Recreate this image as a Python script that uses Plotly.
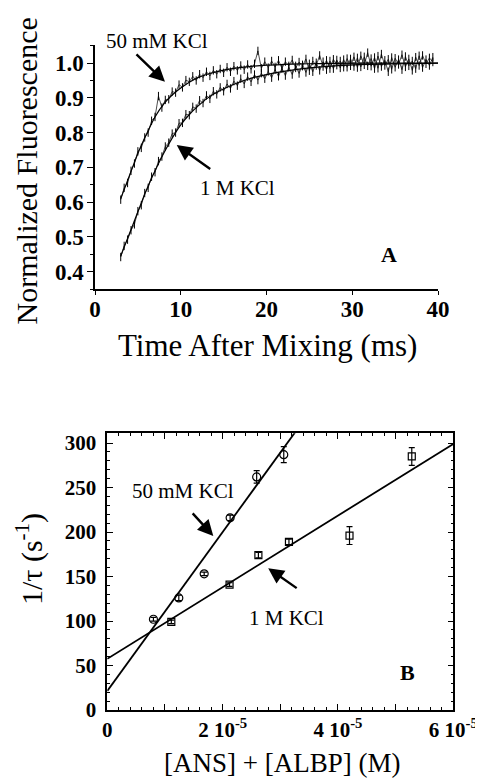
import plotly.graph_objects as go

# ---------------- Panel A data ----------------
t_start = 3.0
t_step = 0.4
fluor_50mM = [0.607, 0.641, 0.655, 0.690, 0.711, 0.746, 0.756, 0.786, 0.800, 0.834,
              0.845, 0.905, 0.872, 0.894, 0.896, 0.918, 0.915, 0.938, 0.930, 0.951,
              0.946, 0.962, 0.950, 0.968, 0.958, 0.975, 0.963, 0.979, 0.968, 0.983,
              0.972, 0.988, 0.975, 0.991, 0.979, 0.993, 0.981, 0.996, 0.982, 0.998,
              1.035, 0.985, 1.004, 0.987, 1.006, 0.989, 1.008, 0.985, 1.004, 0.992,
              1.009, 0.986, 1.003, 0.991, 1.012, 0.978, 1.006, 0.993, 1.022, 0.990,
              1.008, 0.984, 1.011, 0.994, 1.006, 0.988, 1.013, 0.992, 1.018, 0.987,
              1.021, 0.995, 1.030, 0.991, 1.016, 0.985, 1.026, 0.993, 1.011, 0.982,
              1.014, 0.996, 1.024, 0.989, 1.012, 0.979, 1.017, 0.993, 1.022, 0.998,
              1.015, 1.003]
fluor_1M = [0.442, 0.474, 0.492, 0.519, 0.536, 0.574, 0.591, 0.626, 0.641, 0.673,
            0.686, 0.718, 0.731, 0.760, 0.771, 0.797, 0.800, 0.827, 0.828, 0.853,
            0.850, 0.874, 0.869, 0.893, 0.885, 0.907, 0.897, 0.919, 0.910, 0.930,
            0.919, 0.940, 0.927, 0.948, 0.935, 0.955, 0.940, 0.961, 0.946, 0.967,
            0.951, 0.971, 0.955, 0.976, 0.958, 0.981, 0.962, 0.985, 0.964, 0.988,
            0.967, 0.992, 0.970, 0.995, 0.973, 0.998, 0.975, 1.001, 0.979, 1.004,
            0.981, 1.006, 0.984, 1.009, 0.986, 1.010, 0.988, 1.012, 0.990, 1.015,
            0.989, 1.018, 0.992, 1.013, 0.984, 1.020, 0.990, 1.008, 0.975, 1.016,
            0.988, 1.010, 0.981, 1.019, 0.992, 1.006, 0.984, 1.021, 0.987, 1.010,
            0.993, 1.017]
time_ms = [round(t_start + t_step * i, 2) for i in range(len(fluor_50mM))]

fit_time = [3, 4, 5, 6, 7, 8, 9, 10, 11, 12, 13, 14, 16, 18, 20, 22, 25, 28, 32, 36, 40]
fit_50mM = [0.61, 0.675, 0.74, 0.795, 0.845, 0.882, 0.908, 0.928, 0.945, 0.958, 0.967,
            0.974, 0.984, 0.990, 0.994, 0.996, 0.998, 0.999, 1.0, 1.0, 1.0]
fit_1M = [0.445, 0.508, 0.572, 0.635, 0.69, 0.74, 0.784, 0.822, 0.852, 0.876, 0.897,
          0.913, 0.937, 0.955, 0.967, 0.976, 0.986, 0.992, 0.996, 0.998, 1.0]

# ---------------- Panel B data ----------------
conc_50mM = [0.80e-5, 1.24e-5, 1.68e-5, 2.13e-5, 2.59e-5, 3.06e-5]
rate_50mM = [102, 126, 153, 216, 262, 287]
err_50mM = [2, 3, 2, 3, 7, 9]
conc_1M = [1.11e-5, 2.12e-5, 2.62e-5, 3.15e-5, 4.20e-5, 5.28e-5]
rate_1M = [99, 141, 174, 189, 196, 285]
err_1M = [2, 2, 3, 3, 10, 10]
line_50mM_x = [0.0, 3.3e-5]
line_50mM_y = [21.5, 316.0]
line_1M_x = [0.0, 6.0e-5]
line_1M_y = [57.5, 299.0]

x2_tickvals = [0, 1e-5, 2e-5, 3e-5, 4e-5, 5e-5, 6e-5]
x2_ticktext = ["0", " ", "2 10<sup>-5</sup>", " ", "4 10<sup>-5</sup>", " ", "6 10<sup>-5</sup>"]

SERIF = "Liberation Serif"
BLACK = "black"
W, H = 483, 782
OFF = 8  # page body margin of the html page


def px_x(p):
    return (p - OFF) / W


def px_y(p):
    return 1 - (p - OFF) / H


fig = go.Figure()

# Panel A
for series in (fluor_50mM, fluor_1M):
    fig.add_trace(go.Scatter(x=time_ms, y=series, mode="lines+markers",
                             line=dict(color=BLACK, width=0.7),
                             marker=dict(symbol="line-ns-open", size=6, line=dict(color=BLACK, width=1)),
                             xaxis="x", yaxis="y"))
for fit in (fit_50mM, fit_1M):
    fig.add_trace(go.Scatter(x=fit_time, y=fit, mode="lines",
                             line=dict(color=BLACK, width=1.2, shape="spline"),
                             xaxis="x", yaxis="y"))

# Panel B
fig.add_trace(go.Scatter(x=line_50mM_x, y=line_50mM_y, mode="lines", line=dict(color=BLACK, width=1.8),
                         xaxis="x2", yaxis="y2"))
fig.add_trace(go.Scatter(x=line_1M_x, y=line_1M_y, mode="lines", line=dict(color=BLACK, width=1.8),
                         xaxis="x2", yaxis="y2"))
fig.add_trace(go.Scatter(x=conc_50mM, y=rate_50mM, mode="markers",
                         marker=dict(symbol="circle-open", size=8, color=BLACK, line=dict(width=1.2)),
                         error_y=dict(type="data", array=err_50mM, color=BLACK, thickness=1.2, width=3),
                         xaxis="x2", yaxis="y2"))
fig.add_trace(go.Scatter(x=conc_1M, y=rate_1M, mode="markers",
                         marker=dict(symbol="square-open", size=7, color=BLACK, line=dict(width=1.2)),
                         error_y=dict(type="data", array=err_1M, color=BLACK, thickness=1.2, width=3),
                         xaxis="x2", yaxis="y2"))

tickfontA = dict(family=SERIF, size=23, color=BLACK, weight="bold")
tickfontB = dict(family=SERIF, size=21, color=BLACK, weight="bold")

fig.update_layout(
    width=W, height=H,
    margin=dict(l=0, r=0, t=0, b=0),
    paper_bgcolor="white", plot_bgcolor="white",
    showlegend=False,
    xaxis=dict(domain=[px_x(95), px_x(438)], anchor="y", range=[0, 40], automargin=False,
               tickmode="array", tickvals=[0, 10, 20, 30, 40],
               ticks="outside", ticklen=4, tickwidth=1.2, tickcolor=BLACK,
               showline=True, linecolor=BLACK, linewidth=1.5, showgrid=False, zeroline=False,
               tickfont=tickfontA, ticklabelstandoff=-5),
    yaxis=dict(domain=[px_y(289), px_y(45)], anchor="x", range=[0.35, 1.052], automargin=False,
               tickmode="array", tickvals=[0.4, 0.5, 0.6, 0.7, 0.8, 0.9, 1.0],
               ticktext=["0.4", "0.5", "0.6", "0.7", "0.8", "0.9", "1.0"],
               ticks="outside", ticklen=6, tickwidth=1.2, tickcolor=BLACK,
               minor=dict(tickmode="array", tickvals=[0.35, 0.45, 0.55, 0.65, 0.75, 0.85, 0.95, 1.05],
                          ticks="outside", ticklen=3, tickwidth=1.2, tickcolor=BLACK),
               showline=True, linecolor=BLACK, linewidth=1.5, showgrid=False, zeroline=False,
               tickfont=tickfontA, ticklabelstandoff=-1),
    xaxis2=dict(domain=[px_x(107.3), px_x(453.3)], anchor="y2", range=[0, 6e-5], automargin=False,
                tickmode="array", tickvals=x2_tickvals, ticktext=x2_ticktext,
                ticks="inside", ticklen=6, tickwidth=1, tickcolor=BLACK,
                minor=dict(dtick=2e-6, tick0=0, ticks="inside", ticklen=3, tickwidth=1, tickcolor=BLACK),
                showline=True, mirror="ticks", linecolor=BLACK, linewidth=1.5,
                showgrid=False, zeroline=False, tickfont=tickfontB, ticklabelstandoff=0),
    yaxis2=dict(domain=[px_y(710), px_y(433.3)], anchor="x2", range=[0, 311], automargin=False,
                tickmode="array", tickvals=[0, 50, 100, 150, 200, 250, 300],
                ticks="inside", ticklen=6, tickwidth=1, tickcolor=BLACK,
                minor=dict(dtick=10, tick0=0, ticks="inside", ticklen=3, tickwidth=1, tickcolor=BLACK),
                showline=True, mirror="ticks", linecolor=BLACK, linewidth=1.5,
                showgrid=False, zeroline=False, tickfont=tickfontB, ticklabelstandoff=5),
)

label_font = dict(family=SERIF, size=21, color=BLACK)
letter_font = dict(family=SERIF, size=22, color=BLACK, weight="bold")


def paper_text(text, x, y, size, angle=0):
    return dict(text=text, xref="paper", yref="paper", x=px_x(x), y=px_y(y),
                showarrow=False, textangle=angle, xanchor="center", yanchor="middle",
                font=dict(family=SERIF, size=size, color=BLACK))


arrow_style = dict(showarrow=True, arrowhead=2, arrowsize=1.3, arrowwidth=2.4,
                   arrowcolor=BLACK, standoff=0, text="")

annotations = [
    # axis titles
    paper_text("Time After Mixing (ms)", 267, 345, 31),
    paper_text("Normalized Fluorescence", 26, 171.5, 30, -90),
    paper_text("[ANS] + [ALBP] (M)", 281.5, 763, 27),
    paper_text("1/τ (s<sup>-1</sup>)", 29, 559, 30, -90),
    # panel A labels
    paper_text("50 mM KCl", 156.5, 41, 21),
    dict(text="1 M KCl", xref="x", yref="y", x=16.6, y=0.642, showarrow=False, font=label_font),
    dict(text="A", xref="x", yref="y", x=34.3, y=0.448, showarrow=False, font=letter_font),
    dict(xref="x", yref="y", x=8.16, y=0.946, ax=-30, ay=-29, **arrow_style),
    dict(xref="x", yref="y", x=9.53, y=0.764, ax=35, ay=25, **arrow_style),
    # panel B labels
    dict(text="50 mM KCl", xref="x2", yref="y2", x=1.313e-5, y=245.6, showarrow=False, font=label_font),
    dict(text="1 M KCl", xref="x2", yref="y2", x=3.10e-5, y=103.5, showarrow=False, font=label_font),
    dict(text="B", xref="x2", yref="y2", x=5.21e-5, y=42.7, showarrow=False, font=letter_font),
    dict(xref="x2", yref="y2", x=1.838e-5, y=195.7, ax=-22, ay=-24, **arrow_style),
    dict(xref="x2", yref="y2", x=2.79e-5, y=159.4, ax=30, ay=21, **arrow_style),
]
fig.update_layout(annotations=annotations)

fig.write_html("out.html")
